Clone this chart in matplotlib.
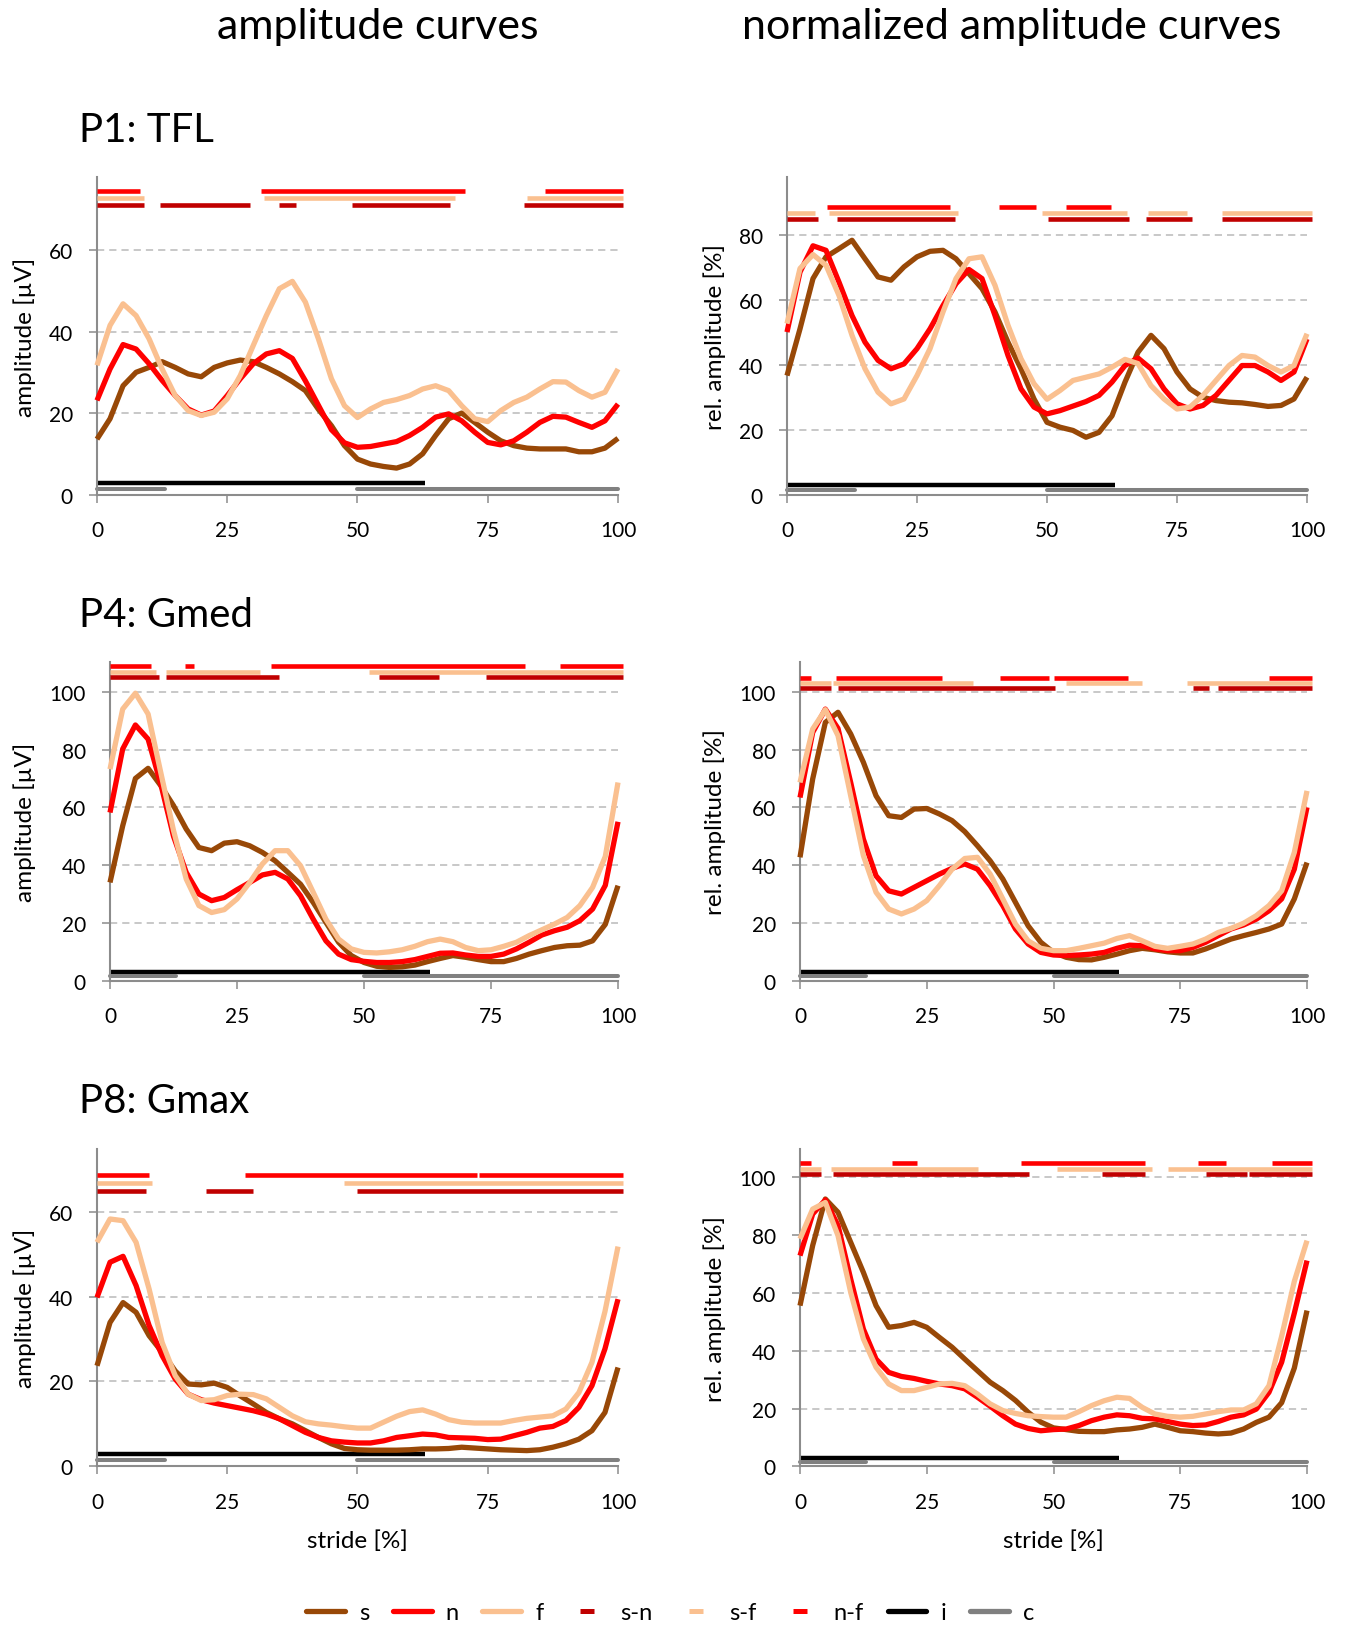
import numpy as np
import matplotlib
matplotlib.use("Agg")
import matplotlib.pyplot as plt
from matplotlib.lines import Line2D

plt.rcParams['font.family'] = ['Lato', 'DejaVu Sans']
plt.rcParams['lines.scale_dashes'] = False

# ---------------- data ----------------
STRIDE = np.arange(0, 100.1, 2.5)   # stride [%], 41 samples
XTICKS = [0, 25, 50, 75, 100]

# P1: TFL -- amplitude [µV]
P1_AMP_S = [13.7, 18.7, 26.8, 30.1, 31.3, 32.7, 31.3, 29.7, 29.0, 31.3, 32.4, 33.1, 32.7, 31.3, 29.7, 27.8, 25.6, 21.0, 17.0, 12.1, 8.8,
            7.6, 7.0, 6.6, 7.6, 10.1, 14.6, 18.7, 20.1, 17.8, 15.4, 13.3, 12.1, 11.5, 11.3, 11.3, 11.3, 10.6, 10.6, 11.5, 13.9]
P1_AMP_N = [23.2, 30.9, 36.9, 35.8, 32.2, 28.1, 24.4, 21.1, 19.6, 20.6, 24.4, 28.5, 32.2, 34.6, 35.4, 33.5, 28.0, 22.0, 16.0, 12.8, 11.7,
            11.9, 12.5, 13.1, 14.6, 16.6, 19.1, 19.9, 18.2, 15.4, 12.9, 12.3, 13.3, 15.4, 17.8, 19.3, 19.1, 17.8, 16.6, 18.2, 22.3]
P1_AMP_F = [31.8, 41.6, 46.9, 44.0, 38.3, 30.9, 24.4, 20.7, 19.5, 20.3, 23.6, 29.3, 36.7, 44.0, 50.6, 52.4, 47.3, 38.3, 28.5, 21.9, 19.0,
            21.1, 22.7, 23.4, 24.4, 26.0, 26.8, 25.6, 21.9, 18.7, 18.0, 20.7, 22.7, 24.0, 26.0, 27.8, 27.7, 25.6, 24.0, 25.2, 30.9]
# P1: TFL -- rel. amplitude [%]
P1_REL_S = [36.8, 51.2, 66.7, 73.4, 75.9, 78.5, 72.8, 67.2, 66.2, 70.3, 73.4, 75.1, 75.4, 72.8, 68.2, 63.6, 56.4, 47.1, 38.9, 29.6, 22.4,
            20.9, 19.9, 17.8, 19.3, 24.4, 34.8, 44.0, 49.2, 45.1, 37.9, 32.7, 30.1, 29.1, 28.6, 28.4, 27.9, 27.3, 27.6, 29.6, 36.3]
P1_REL_N = [50.2, 68.7, 76.8, 75.4, 65.6, 55.3, 47.1, 41.5, 38.9, 40.4, 45.1, 51.2, 58.4, 65.1, 69.5, 66.7, 55.3, 43.0, 32.7, 27.1, 25.0,
            26.0, 27.4, 28.8, 30.7, 34.8, 39.9, 42.2, 38.9, 32.7, 28.1, 26.5, 27.6, 30.7, 35.3, 39.9, 39.9, 37.9, 35.3, 37.9, 48.1]
P1_REL_F = [52.8, 69.8, 74.1, 70.8, 61.5, 49.2, 38.9, 31.7, 28.1, 29.6, 36.8, 45.1, 56.4, 66.7, 72.8, 73.4, 64.6, 52.3, 42.0, 34.3, 29.5,
            32.2, 35.3, 36.3, 37.3, 39.4, 41.8, 40.5, 33.7, 29.6, 26.5, 27.1, 30.7, 35.3, 39.9, 43.0, 42.5, 39.9, 37.9, 39.9, 49.7]

# P4: Gmed -- amplitude [µV]
P4_AMP_S = [34.0, 53.6, 70.0, 73.5, 67.5, 60.6, 52.5, 46.1, 45.0, 47.6, 48.1, 46.7, 44.4, 41.5, 37.5, 33.4, 27.1, 20.2, 13.3, 8.7, 6.3,
            5.0, 4.6, 4.8, 5.4, 6.6, 7.7, 8.7, 8.1, 7.3, 6.6, 6.6, 7.7, 9.2, 10.4, 11.5, 12.1, 12.3, 13.8, 19.5, 32.9]
P4_AMP_N = [58.2, 80.2, 88.5, 83.6, 68.0, 50.0, 37.5, 30.0, 27.7, 28.8, 31.5, 34.0, 36.6, 37.5, 35.2, 29.4, 21.3, 13.8, 9.2, 7.3, 6.7,
            6.3, 6.3, 6.6, 7.3, 8.4, 9.5, 9.6, 8.9, 8.4, 8.4, 9.2, 11.0, 13.3, 15.8, 17.3, 18.5, 20.8, 24.8, 33.0, 55.0]
P4_AMP_F = [73.2, 94.0, 99.5, 92.3, 72.0, 52.0, 35.2, 26.0, 23.6, 24.6, 28.3, 34.0, 40.4, 45.0, 45.0, 39.8, 30.6, 21.3, 14.4, 11.0, 9.8,
            9.6, 10.0, 10.7, 11.9, 13.5, 14.4, 13.5, 11.5, 10.4, 10.7, 11.9, 13.3, 15.6, 17.6, 19.6, 21.9, 26.0, 32.3, 43.0, 68.6]
# P4: Gmed -- rel. amplitude [%]
P4_REL_S = [42.7, 69.8, 89.4, 92.9, 85.4, 75.6, 64.0, 57.1, 56.5, 59.4, 59.6, 57.7, 55.4, 51.6, 46.7, 41.5, 35.2, 27.1, 19.0, 13.3, 9.8,
            8.1, 7.3, 7.2, 8.1, 9.2, 10.4, 11.2, 10.7, 10.0, 9.6, 9.6, 11.0, 12.7, 14.4, 15.6, 16.7, 17.9, 19.6, 28.3, 40.9]
P4_REL_N = [63.4, 85.9, 94.0, 87.3, 68.6, 49.0, 36.3, 31.1, 30.0, 32.3, 34.6, 36.9, 38.9, 40.4, 38.6, 32.9, 26.0, 17.9, 12.7, 9.8, 8.9,
            8.7, 8.9, 9.2, 9.8, 11.2, 12.3, 12.1, 11.0, 10.4, 10.4, 11.5, 13.3, 15.6, 17.9, 19.3, 21.3, 24.2, 28.3, 38.6, 60.0]
P4_REL_F = [68.6, 87.1, 93.8, 84.8, 64.0, 43.3, 30.6, 24.8, 23.1, 24.8, 27.7, 32.9, 38.6, 42.3, 42.7, 36.9, 28.3, 19.6, 13.8, 11.2, 10.4,
            10.4, 11.2, 12.1, 13.0, 14.6, 15.6, 13.8, 11.9, 11.2, 11.9, 12.7, 14.4, 16.7, 18.1, 19.9, 22.5, 26.0, 31.1, 44.4, 65.7]

# P8: Gmax -- amplitude [µV]
P8_AMP_S = [23.7, 33.9, 38.6, 36.3, 30.8, 26.9, 22.5, 19.4, 19.2, 19.6, 18.6, 16.6, 14.7, 12.7, 11.2, 10.0, 8.4, 6.8, 5.3, 4.2, 3.9,
            3.8, 3.8, 3.8, 3.9, 4.1, 4.1, 4.2, 4.5, 4.3, 4.1, 3.9, 3.8, 3.7, 3.9, 4.5, 5.3, 6.4, 8.4, 12.7, 23.3]
P8_AMP_N = [39.8, 48.1, 49.5, 42.6, 33.2, 26.1, 20.6, 17.0, 15.7, 14.9, 14.3, 13.7, 13.1, 12.3, 11.2, 9.6, 8.0, 6.8, 6.0, 5.7, 5.5,
            5.5, 6.0, 6.8, 7.2, 7.6, 7.4, 6.8, 6.7, 6.6, 6.3, 6.4, 7.2, 8.0, 9.0, 9.4, 10.8, 13.9, 19.0, 27.7, 39.4]
P8_AMP_F = [52.8, 58.3, 57.9, 52.8, 41.8, 29.2, 21.4, 17.0, 15.5, 15.7, 16.7, 17.0, 16.9, 15.9, 13.9, 11.9, 10.5, 10.0, 9.7, 9.3, 9.0,
            9.0, 10.4, 11.8, 12.9, 13.3, 12.3, 11.0, 10.4, 10.2, 10.2, 10.2, 10.8, 11.3, 11.6, 11.9, 13.5, 17.4, 24.5, 36.5, 51.8]
# P8: Gmax -- rel. amplitude [%]
P8_REL_S = [55.6, 76.4, 92.5, 87.9, 77.5, 67.1, 55.6, 48.1, 48.7, 49.8, 48.1, 44.6, 41.2, 37.1, 33.1, 29.1, 26.2, 22.8, 18.7, 15.3, 13.3,
            12.7, 12.1, 12.0, 12.0, 12.6, 12.9, 13.5, 14.6, 13.5, 12.3, 12.0, 11.5, 11.2, 11.5, 12.9, 15.2, 17.0, 22.0, 34.0, 53.9]
P8_REL_N = [72.9, 87.3, 92.2, 83.3, 64.8, 47.5, 37.1, 32.5, 31.1, 30.4, 29.4, 28.5, 27.9, 26.8, 23.9, 20.8, 17.5, 14.6, 13.1, 12.3, 12.7,
            12.9, 14.1, 15.8, 17.0, 17.8, 17.5, 16.6, 16.4, 15.5, 14.6, 14.1, 14.3, 15.5, 17.0, 17.8, 19.8, 25.6, 36.0, 53.0, 71.2]
P8_REL_F = [78.7, 89.0, 91.3, 79.8, 60.2, 44.1, 34.3, 28.5, 26.2, 26.2, 27.3, 28.5, 28.7, 27.9, 25.0, 21.6, 19.3, 18.3, 17.5, 17.2, 17.0,
            17.0, 18.9, 21.0, 22.7, 23.9, 23.5, 20.4, 18.1, 17.3, 17.0, 17.3, 18.1, 18.9, 19.5, 19.5, 21.6, 27.9, 45.0, 64.0, 78.1]

# significant stride intervals [start, end] (%)
P1_AMP_NF = [(0, 8.3), (31.5, 70.7), (85.9, 101)]
P1_AMP_SF = [(0, 9.1), (32, 68.7), (82.5, 101)]
P1_AMP_SN = [(0, 9.1), (12, 29.3), (35, 38.2), (49, 67.7), (81.9, 101)]
P1_REL_NF = [(7.6, 31.3), (40.7, 47.8), (53.6, 62.3)]
P1_REL_SF = [(0, 5.3), (8, 32.9), (49, 65.4), (69.5, 76.9), (83.6, 101)]
P1_REL_SN = [(0, 5.9), (9.6, 32.3), (50.1, 65.8), (69.1, 77.8), (83.6, 101)]

P4_AMP_NF = [(0, 8.1), (14.7, 16.6), (31.6, 81.6), (88.6, 101)]
P4_AMP_SF = [(0, 9.1), (11, 29.6), (51, 101)]
P4_AMP_SN = [(0, 9.7), (11, 33.2), (53, 64.7), (74, 101)]
P4_REL_NF = [(0, 2.2), (7.1, 28.1), (39.4, 49.2), (50, 64.6), (92.5, 101)]
P4_REL_SF = [(0, 6.2), (6.6, 34.1), (52.4, 67.5), (76.4, 101)]
P4_REL_SN = [(0, 6.2), (7.5, 50.2), (77.6, 80.6), (82.5, 101)]

P8_AMP_NF = [(0, 9.9), (28.5, 73), (73.4, 101)]
P8_AMP_SF = [(0, 10.5), (47.5, 101)]
P8_AMP_SN = [(0, 9.5), (21, 30), (50, 101)]
P8_REL_NF = [(0, 2.1), (18.1, 23), (43.6, 68), (78.5, 84.1), (93, 101)]
P8_REL_SF = [(0, 4.1), (6.2, 35.1), (50.6, 69.5), (72.5, 101)]
P8_REL_SN = [(0, 4.1), (6.6, 45.1), (59.5, 68), (80, 88.1), (88.5, 101)]

# gait phases
PHASE_I = [(0, 63)]
PHASE_C = [(0, 13), (50, 100)]

ROW_TITLES = ["P1: TFL", "P4: Gmed", "P8: Gmax"]
COL_TITLES = ["amplitude curves", "normalized amplitude curves"]
YLABELS = ["amplitude [µV]", "rel. amplitude [%]"]
XLABEL = "stride [%]"
LEGEND_LABELS = ["s", "n", "f", "s-n", "s-f", "n-f", "i", "c"]

# ---------------- styling ----------------
C_S, C_N, C_F = '#984807', '#FF0000', '#FAC090'
C_SN, C_SF, C_NF = '#C00000', '#FAC090', '#FF0000'
C_I, C_C = '#000000', '#808080'
AXC = '#8C8C8C'
GRIDC = '#BFBFBF'

W, H = 1347, 1631
fig = plt.figure(figsize=(W / 100, H / 100), dpi=100)


def rect(x0, x1, ytop, ybot):
    return [x0 / W, 1 - ybot / H, (x1 - x0) / W, (ybot - ytop) / H]


panels = [
    # x0, x1, ytop, ybot, ymax, yticks, col, series, sig, bar levels (nf, sf, sn)
    (97, 618, 178, 496, 78.0, [0, 20, 40, 60], 0,
     (P1_AMP_S, P1_AMP_N, P1_AMP_F), (P1_AMP_NF, P1_AMP_SF, P1_AMP_SN), (74.6, 72.9, 71.1)),
    (787, 1307, 178, 496, 98.0, [0, 20, 40, 60, 80], 1,
     (P1_REL_S, P1_REL_N, P1_REL_F), (P1_REL_NF, P1_REL_SF, P1_REL_SN), (88.7, 86.9, 85.1)),
    (110, 618, 663, 981.7, 110.3, [0, 20, 40, 60, 80, 100], 0,
     (P4_AMP_S, P4_AMP_N, P4_AMP_F), (P4_AMP_NF, P4_AMP_SF, P4_AMP_SN), (108.8, 106.9, 105.2)),
    (800, 1307, 663, 981.7, 110.3, [0, 20, 40, 60, 80, 100], 1,
     (P4_REL_S, P4_REL_N, P4_REL_F), (P4_REL_NF, P4_REL_SF, P4_REL_SN), (104.7, 102.9, 101.2)),
    (97, 618, 1150, 1467.3, 74.8, [0, 20, 40, 60], 0,
     (P8_AMP_S, P8_AMP_N, P8_AMP_F), (P8_AMP_NF, P8_AMP_SF, P8_AMP_SN), (68.6, 66.8, 65.0)),
    (800, 1307, 1150, 1467.3, 109.8, [0, 20, 40, 60, 80, 100], 1,
     (P8_REL_S, P8_REL_N, P8_REL_F), (P8_REL_NF, P8_REL_SF, P8_REL_SN), (104.8, 103.0, 101.2)),
]

YLABEL_X = [25, 715]
TICKFS = 15
LABELFS = 17.5

for i, (x0, x1, ytop, ybot, ymax, yticks, col, series, sig, levels) in enumerate(panels):
    ax = fig.add_axes(rect(x0, x1, ytop, ybot))
    ax.set_xlim(0, 100)
    ax.set_ylim(0, ymax)
    for sp in ['top', 'right']:
        ax.spines[sp].set_visible(False)
    for sp in ['left', 'bottom']:
        ax.spines[sp].set_color(AXC)
        ax.spines[sp].set_linewidth(1.5)
    ax.set_xticks(XTICKS)
    ax.set_yticks(yticks)
    ax.tick_params(axis='both', direction='out', length=5.8, width=1.1, color=AXC,
                   labelsize=TICKFS, labelcolor='black')
    ax.tick_params(axis='x', pad=12.5)
    ax.tick_params(axis='y', pad=11.5)
    # dashed horizontal gridlines
    for yt in yticks[1:]:
        ax.axhline(yt, color=GRIDC, lw=1.2, dashes=(5.2, 3.6), zorder=0.5)

    # gait phase bars
    for a, b in PHASE_I:
        ax.plot([a, b], [3.0, 3.0], color=C_I, lw=3.2, solid_capstyle='butt', clip_on=False, zorder=2)
    for a, b in PHASE_C:
        ax.plot([a, b], [1.5, 1.5], color=C_C, lw=2.9, solid_capstyle='round', clip_on=False, zorder=2.1)

    # curves
    for vals, c in zip(series, (C_S, C_N, C_F)):
        ax.plot(STRIDE, vals, color=c, lw=3.8, solid_joinstyle='round', solid_capstyle='butt',
                clip_on=False, zorder=3)

    # significance bars
    for segs, c, yl in zip(sig, (C_NF, C_SF, C_SN), levels):
        for a, b in segs:
            ax.plot([a, b], [yl, yl], color=c, lw=3.3, solid_capstyle='butt', clip_on=False, zorder=4)

    # y label
    fig.text(YLABEL_X[col] / W, 1 - ((ytop + ybot) / 2) / H, YLABELS[col], rotation=90,
             ha='center', va='center', fontsize=LABELFS)

    if i >= 4:
        ax.set_xlabel(XLABEL, fontsize=LABELFS, labelpad=13)

# column titles
fig.text(378 / W, 1 - 38.5 / H, COL_TITLES[0], ha='center', va='baseline', fontsize=31)
fig.text(1012 / W, 1 - 38.5 / H, COL_TITLES[1], ha='center', va='baseline', fontsize=31)
# row titles
for t, yb in zip(ROW_TITLES, [141.7, 627.4, 1113.0]):
    fig.text(79 / W, 1 - yb / H, t, ha='left', va='baseline', fontsize=29)

# legend
handles = [
    Line2D([], [], color=C_S, lw=3.8, solid_capstyle='round'),
    Line2D([], [], color=C_N, lw=3.8, solid_capstyle='round'),
    Line2D([], [], color=C_F, lw=3.8, solid_capstyle='round'),
    Line2D([], [], color=C_SN, lw=0, marker='_', markersize=10, markeredgewidth=3.6),
    Line2D([], [], color=C_SF, lw=0, marker='_', markersize=10, markeredgewidth=3.6),
    Line2D([], [], color=C_NF, lw=0, marker='_', markersize=10, markeredgewidth=3.6),
    Line2D([], [], color=C_I, lw=3.8, solid_capstyle='round'),
    Line2D([], [], color=C_C, lw=3.8, solid_capstyle='round'),
]
fig.legend(handles, LEGEND_LABELS, loc='center', bbox_to_anchor=(670 / W, 1 - 1614 / H),
           ncol=8, frameon=False, fontsize=17, handlelength=1.65, handletextpad=0.6,
           columnspacing=1.0, borderpad=0, borderaxespad=0)

fig.savefig('out.png', dpi=100)
